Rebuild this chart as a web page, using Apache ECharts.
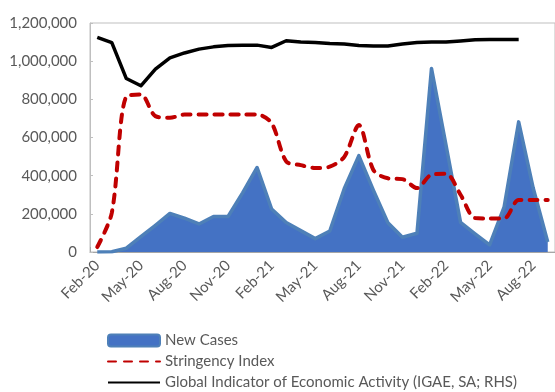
<!DOCTYPE html>
<html>
<head>
<meta charset="utf-8">
<script src="https://cdn.jsdelivr.net/npm/echarts@6/dist/echarts.min.js"></script>
<style>
  html, body { margin: 0; padding: 0; background: #fff; }
  #chart { width: 555px; height: 392px; }
</style>
</head>
<body>
<div id="chart"></div>
<script>
// Monthly categories, Feb-20 .. Sep-22
const months = ['Feb-20','Mar-20','Apr-20','May-20','Jun-20','Jul-20','Aug-20','Sep-20','Oct-20','Nov-20','Dec-20',
  'Jan-21','Feb-21','Mar-21','Apr-21','May-21','Jun-21','Jul-21','Aug-21','Sep-21','Oct-21','Nov-21','Dec-21',
  'Jan-22','Feb-22','Mar-22','Apr-22','May-22','Jun-22','Jul-22','Aug-22','Sep-22'];

// New COVID-19 cases per month
const newCases = [0, 1500, 20000, 80000, 140000, 202000, 177000, 147000, 186000, 186000, 310000,
  443000, 225000, 155000, 112000, 70000, 110000, 333000, 505000, 324000, 153000, 77000, 98000,
  962000, 560000, 155000, 95000, 37000, 237000, 682000, 335000, 52000];

// Stringency index (plotted on the left scale)
const stringency = [26000, 205000, 815000, 825000, 712000, 703000, 720000, 720000, 720000, 720000, 720000,
  720000, 675000, 475000, 455000, 440000, 447000, 499000, 665000, 430000, 386000, 382000, 335000,
  405000, 410000, 300000, 178000, 176000, 176000, 272000, 272000, 272000];

// Global Indicator of Economic Activity (plotted on the left scale)
const igae = [1125000, 1097000, 909000, 871000, 958000, 1017000, 1043000, 1063000, 1075000, 1082000, 1084000,
  1084000, 1072000, 1107000, 1100000, 1098000, 1092000, 1090000, 1082000, 1080000, 1080000, 1090000, 1098000,
  1100000, 1100000, 1106000, 1112000, 1113000, 1113000, 1113000, null, null];

// Left axis range and step
const yMin = 0, yMax = 1200000, yStep = 200000;

const font = 'Lato, "Open Sans", sans-serif';
const textColor = '#595959';

const chart = echarts.init(document.getElementById('chart'), null, { renderer: 'canvas' });

chart.setOption({
  animation: false,
  backgroundColor: '#ffffff',
  grid: {
    left: 90, top: 23, width: 469, height: 229,
    show: true, borderColor: '#BFBFBF', borderWidth: 1, backgroundColor: 'transparent'
  },
  legend: {
    orient: 'vertical',
    left: 102, top: 328, height: 80,
    itemWidth: 52, itemHeight: 12, itemGap: 6,
    textStyle: { fontFamily: font, fontSize: 15, color: textColor },
    data: [
      { name: 'New Cases', icon: 'roundRect',
        itemStyle: { color: '#4472C4', borderColor: '#4E80B8', borderWidth: 2 } },
      // line-only legend keys (no marker)
      { name: 'Stringency Index', itemStyle: { opacity: 0 } },
      { name: 'Global Indicator of Economic Activity (IGAE, SA; RHS)', itemStyle: { opacity: 0 } }
    ]
  },
  xAxis: {
    type: 'category',
    data: months,
    boundaryGap: true,
    axisLine: { show: true, lineStyle: { color: '#A6A6A6', width: 1 } },
    axisTick: { show: true, inside: true, interval: 2, length: 5, lineStyle: { color: '#A6A6A6' } },
    axisLabel: {
      interval: 2, rotate: 45, margin: 11,
      fontFamily: font, fontSize: 15, color: textColor
    },
    splitLine: { show: false }
  },
  yAxis: {
    type: 'value',
    min: yMin, max: yMax, interval: yStep,
    axisLine: { show: true, lineStyle: { color: '#BFBFBF' } },
    axisTick: { show: true, inside: true, length: 3, lineStyle: { color: '#BFBFBF' } },
    splitLine: { show: false },
    axisLabel: {
      margin: 13, fontFamily: font, fontSize: 15, color: textColor,
      formatter: v => v.toLocaleString('en-US')
    }
  },
  series: [
    {
      name: 'New Cases',
      type: 'line',
      data: newCases,
      symbol: 'none',
      z: 1,
      lineStyle: { color: '#4E80B8', width: 3.5, join: 'round' },
      itemStyle: { color: '#4472C4' },
      areaStyle: { color: '#4472C4', opacity: 1 }
    },
    {
      name: 'Stringency Index',
      type: 'line',
      data: stringency,
      symbol: 'none',
      smooth: 0.3,
      z: 2,
      lineStyle: { color: '#C00000', width: 4, type: [8, 8], cap: 'round' },
      itemStyle: { color: '#C00000' }
    },
    {
      name: 'Global Indicator of Economic Activity (IGAE, SA; RHS)',
      type: 'line',
      data: igae,
      symbol: 'none',
      z: 3,
      lineStyle: { color: '#000000', width: 3.5, join: 'round' },
      itemStyle: { color: '#000000' }
    }
  ]
});
</script>
</body>
</html>
